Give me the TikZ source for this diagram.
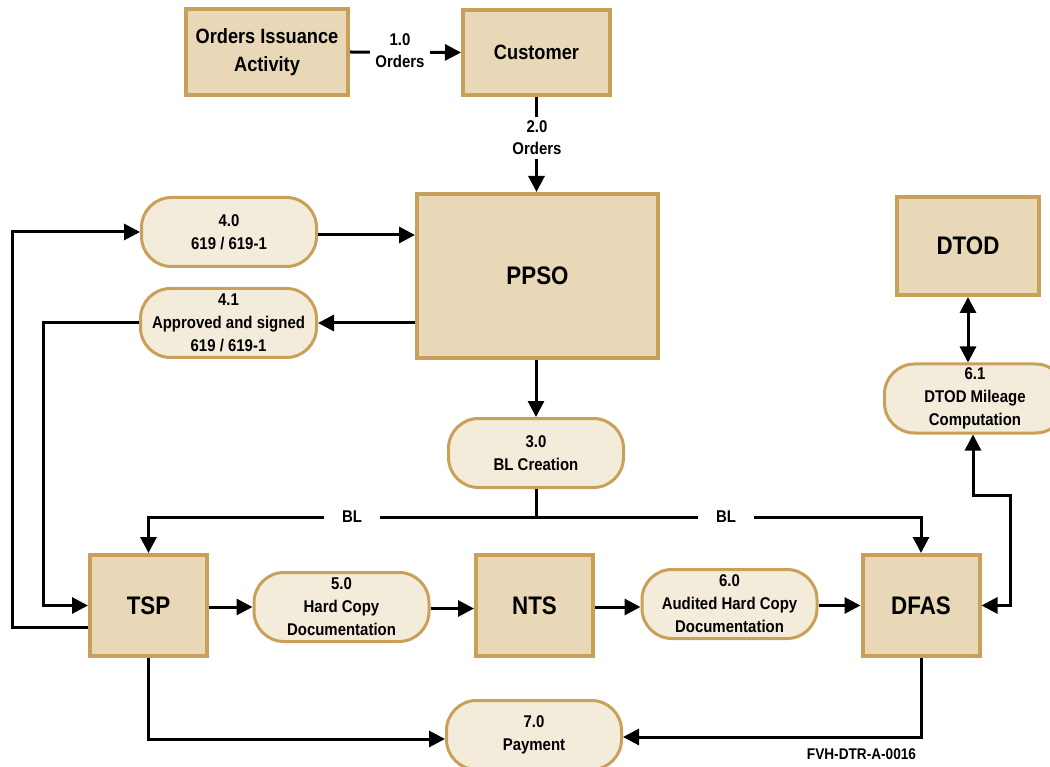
\documentclass[tikz,border=0pt]{standalone}
\usepackage{fontspec}
\setmainfont{Liberation Sans}[FakeStretch=0.88]
\usetikzlibrary{arrows.meta}
\definecolor{boxfill}{HTML}{E8D8B7}
\definecolor{boxline}{HTML}{C9A05A}
\definecolor{pillfill}{HTML}{F4ECDB}
\tikzset{
  ent/.style={draw=boxline, fill=boxfill, line width=4pt, align=center, inner sep=0pt,
    font=\bfseries\fontsize{20.7}{28}\selectfont},
  bigent/.style={ent, font=\bfseries\fontsize{25.4}{28}\selectfont},
  pill/.style={draw=boxline, fill=pillfill, line width=3pt, rounded corners=30pt, align=center, inner sep=0pt,
    font=\bfseries\fontsize{17}{23}\selectfont},
  flow/.style={line width=3pt, -{Triangle[length=16pt,width=16pt]}},
  flow2/.style={line width=3pt, {Triangle[length=16pt,width=16pt]}-{Triangle[length=16pt,width=16pt]}},
  plain/.style={line width=3pt},
  lbl/.style={fill=white, align=center, inner xsep=5pt, inner ysep=4pt, font=\bfseries\fontsize{17}{22}\selectfont},
  bllbl/.style={lbl, inner xsep=18pt},
}
\begin{document}
\begin{tikzpicture}[x=1pt,y=-1pt]
\useasboundingbox (0,0) rectangle (1050,767);
\clip (0,0) rectangle (1050,767);
\fill[white] (0,0) rectangle (1050,767);

% entities
\node[ent, minimum width=162pt, minimum height=86pt] (oia) at (267,52) {Orders Issuance\\Activity};
\node[ent, minimum width=147pt, minimum height=85pt] (cust) at (536.5,52.5) {Customer};
\node[bigent, minimum width=241pt, minimum height=164pt] (ppso) at (537.5,276) {PPSO};
\node[bigent, minimum width=142pt, minimum height=98pt] (dtod) at (968,246) {DTOD};
\node[bigent, minimum width=117pt, minimum height=101pt] (tsp) at (148.5,605.5) {TSP};
\node[bigent, minimum width=117pt, minimum height=101pt] (nts) at (534.5,605.5) {NTS};
\node[bigent, minimum width=117pt, minimum height=101pt] (dfas) at (921,605.5) {DFAS};

% processes
\node[pill, minimum width=175pt, minimum height=69pt] (r40) at (229,232) {4.0\\619 / 619-1};
\node[pill, minimum width=176pt, minimum height=69pt] (r41) at (228.5,323) {4.1\\Approved and signed\\619 / 619-1};
\node[pill, minimum width=175pt, minimum height=69pt] (r30) at (536,453) {3.0\\BL Creation};
\node[pill, minimum width=175pt, minimum height=69pt] (r50) at (341.5,607) {5.0\\Hard Copy\\Documentation};
\node[pill, minimum width=175pt, minimum height=69pt] (r60) at (729.5,604) {6.0\\Audited Hard Copy\\Documentation};
\node[pill, minimum width=181pt, minimum height=69pt] (r61) at (975,398.5) {6.1\\DTOD Mileage\\Computation};
\node[pill, minimum width=175pt, minimum height=69pt] (r70) at (534,735) {7.0\\Payment};

% connectors
\draw[flow] (oia.east) -- (cust.west);
\node[lbl] (l10) at (400,51) {1.0\\Orders};
\draw[flow] (cust.south) -- (cust.south |- ppso.north);
\node[lbl] (l20) at (537,138) {2.0\\Orders};

\draw[flow] ([yshift=-22pt]tsp.west) -- ++(-76,0) |- (r40.west);
\draw[flow] ([yshift=-3pt]r40.east) -- ([yshift=-3pt]r40.east -| ppso.west);
\draw[flow] (ppso.west |- r41.east) -- (r41.east);
\draw[flow] (r41.west) -- ++(-96,0) |- (tsp.west);

\draw[flow] (ppso.south -| r30.north) -- (r30.north);
\coordinate (bus) at (r30.south |- 0,517);
\draw[plain] (r30.south) -- (bus);
\draw[flow] (bus) -| (tsp.north);
\draw[flow] (bus) -| (dfas.north);
\node[bllbl] (bl1) at (352,517) {BL};
\node[bllbl] (bl2) at (726,517) {BL};

\draw[flow] ([yshift=-1.5pt]tsp.east) -- ([yshift=-1.5pt]tsp.east -| r50.west);
\draw[flow] ([yshift=-1.5pt]r50.east) -- ([yshift=-1.5pt]r50.east -| nts.west);
\draw[flow] ([yshift=-1.5pt]nts.east) -- ([yshift=-1.5pt]nts.east -| r60.west);
\draw[flow] ([yshift=-1.5pt]r60.east) -- ([yshift=-1.5pt]r60.east -| dfas.west);

\draw[flow2] (dtod.south) -- (dtod.south |- r61.north);
\draw[flow2] ([xshift=-2pt]r61.south) -- ++(0,61) -| ([xshift=29pt]dfas.east) -- (dfas.east);

\draw[flow] (tsp.south) |- ([yshift=-4pt]r70.west);
\draw[flow] (dfas.south) |- ([yshift=-2pt]r70.east);

\node[font=\bfseries\fontsize{15.5}{16}\selectfont, inner sep=0pt] (code) at (861.5,754) {FVH-DTR-A-0016};
\end{tikzpicture}
\end{document}
